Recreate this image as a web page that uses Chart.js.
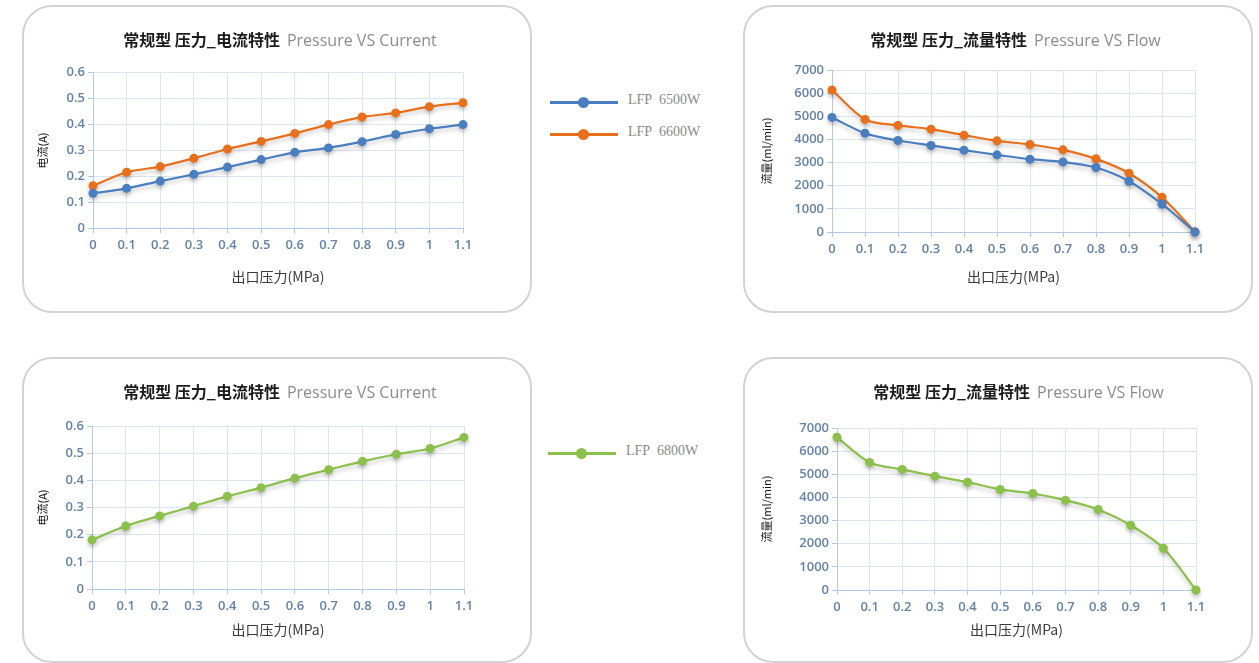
<!DOCTYPE html>
<html>
<head>
<meta charset="utf-8">
<script src="https://cdn.jsdelivr.net/npm/chart.js@4.4.1/dist/chart.umd.min.js"></script>
<style>
  body { margin: 0; width: 1259px; height: 663px; position: relative; overflow: hidden; background: #fff; }
  .box { position: absolute; border: 2px solid #d3d3d3; border-radius: 30px; box-sizing: border-box; }
  canvas { position: absolute; }
  .title { position: absolute; white-space: nowrap; transform: translate(-50%, -50%); line-height: 1; }
  .title .cn { font-family: "Noto Sans CJK SC", sans-serif; font-weight: 700; font-size: 16px; color: #1c1c1c; }
  .title .en { font-family: "Open Sans", sans-serif; font-size: 16px; color: #8c8c8c; margin-left: 7px; }
  .leg { position: absolute; height: 14px; }
  .leg .ln { position: absolute; left: 0; top: 6px; width: 68px; height: 3px; }
  .leg .dt { position: absolute; left: 28px; top: 2px; width: 11px; height: 11px; border-radius: 50%; }
  .leg .tx { position: absolute; left: 78px; top: -3px; font-family: "Liberation Serif", serif; font-size: 14px; color: #8a8a8a; word-spacing: 4px; white-space: nowrap; }
</style>
</head>
<body>
<script>
// x axis: outlet pressure (MPa)
const pressure = ['0', '0.1', '0.2', '0.3', '0.4', '0.5', '0.6', '0.7', '0.8', '0.9', '1', '1.1'];

// current (A)
const current6500 = [0.135, 0.154, 0.182, 0.208, 0.236, 0.265, 0.293, 0.310, 0.334, 0.362, 0.384, 0.400];
const current6600 = [0.164, 0.216, 0.238, 0.270, 0.306, 0.335, 0.366, 0.400, 0.429, 0.445, 0.469, 0.484];
const current6800 = [0.181, 0.232, 0.269, 0.305, 0.341, 0.373, 0.408, 0.439, 0.470, 0.496, 0.517, 0.558];

// flow (ml/min)
const flow6500 = [4950, 4270, 3955, 3740, 3535, 3335, 3145, 3030, 2785, 2195, 1210, 0];
const flow6600 = [6135, 4865, 4605, 4445, 4185, 3940, 3780, 3550, 3160, 2540, 1500, 15];
const flow6800 = [6600, 5510, 5210, 4920, 4660, 4345, 4170, 3880, 3480, 2800, 1805, 0];

const currentTicks = { max: 0.6, step: 0.1 };
const flowTicks = { max: 7000, step: 1000 };

const seriesNames = ['LFP 6500W', 'LFP 6600W', 'LFP 6800W'];
const seriesColors = ['#4a7ebf', '#e8701c', '#8cc04c'];

const titleCn = ['常规型 压力_电流特性', '常规型 压力_流量特性'];
const titleEn = ['Pressure VS Current', 'Pressure VS Flow'];
const xTitle = '出口压力(MPa)';
const yTitles = ['电流(A)', '流量(ml/min)'];

// soft drop shadow under the lines, like the office chart
const shadowPlugin = {
    id: 'lineShadow',
    beforeDatasetsDraw(chart) {
        const ctx = chart.ctx;
        ctx.save();
        ctx.shadowColor = 'rgba(0,0,0,0.22)';
        ctx.shadowBlur = 4;
        ctx.shadowOffsetY = 3;
    },
    afterDatasetsDraw(chart) {
        chart.ctx.restore();
    }
};

function addBox(b) {
    const d = document.createElement('div');
    d.className = 'box';
    d.style.left = b.x + 'px';
    d.style.top = b.y + 'px';
    d.style.width = b.w + 'px';
    d.style.height = b.h + 'px';
    document.body.appendChild(d);
}

function addTitle(cn, en, cx, cy) {
    const t = document.createElement('div');
    t.className = 'title';
    t.style.left = cx + 'px';
    t.style.top = cy + 'px';
    t.innerHTML = '<span class="cn">' + cn + '</span><span class="en">' + en + '</span>';
    document.body.appendChild(t);
}

function addLegend(idx, left, top) {
    const l = document.createElement('div');
    l.className = 'leg';
    l.style.left = left + 'px';
    l.style.top = top + 'px';
    l.innerHTML = '<span class="ln" style="background:' + seriesColors[idx] + '"></span>' +
        '<span class="dt" style="background:' + seriesColors[idx] + '"></span>' +
        '<span class="tx">' + seriesNames[idx] + '</span>';
    document.body.appendChild(l);
}

function makeChart(g, series, ticks, yTitle) {
    addBox(g.box);
    const canvas = document.createElement('canvas');
    canvas.style.left = g.box.x + 'px';
    canvas.style.top = g.box.y + 'px';
    canvas.width = g.box.w;
    canvas.height = g.box.h;
    document.body.appendChild(canvas);

    // place plot area and axis titles where the reference has them
    const yFont = 11, xFont = 14;
    const padLeft = (g.yTitleX - g.box.x) - yFont * 1.2 / 2 - 4;
    const yWidth = (g.plot.l - g.box.x) - padLeft;
    const xBottom = (g.xTitleY - g.box.y) + xFont * 1.2 / 2 + 4;
    const padBottom = g.box.h - xBottom;
    const xHeight = xBottom - (g.plot.b - g.box.y);

    const tickFont = { family: 'Open Sans', size: 13, weight: '600' };
    const tickColor = '#6382a6';

    new Chart(canvas.getContext('2d'), {
        type: 'line',
        data: {
            labels: pressure,
            datasets: series.map(s => ({
                label: seriesNames[s.idx],
                data: s.data,
                borderColor: seriesColors[s.idx],
                backgroundColor: seriesColors[s.idx],
                pointBackgroundColor: seriesColors[s.idx],
                pointBorderWidth: 0,
                pointRadius: 4.5,
                borderWidth: 2.2,
                tension: 0.3,
                clip: false
            }))
        },
        options: {
            responsive: false,
            animation: false,
            layout: {
                padding: {
                    left: padLeft,
                    top: g.plot.t - g.box.y,
                    right: g.box.x + g.box.w - g.plot.r,
                    bottom: padBottom
                }
            },
            plugins: {
                legend: { display: false },
                tooltip: { enabled: false }
            },
            scales: {
                x: {
                    offset: false,
                    grid: { color: '#dae5f2', tickLength: 5, tickColor: '#b4c8e0' },
                    border: { color: '#b4c8e0' },
                    ticks: { color: tickColor, font: tickFont, padding: 4, maxRotation: 0, autoSkip: false },
                    title: { display: true, text: xTitle, color: '#3a3a3a', font: { family: 'Noto Sans CJK SC', size: xFont } },
                    afterFit: sc => { sc.height = xHeight; }
                },
                y: {
                    min: 0,
                    max: ticks.max,
                    grid: { color: '#dae5f2', tickLength: 5, tickColor: '#b4c8e0' },
                    border: { color: '#b4c8e0' },
                    ticks: {
                        stepSize: ticks.step,
                        color: tickColor,
                        font: tickFont,
                        padding: 3,
                        callback: v => String(Math.round(v * 10) / 10)
                    },
                    title: { display: true, text: yTitle, color: '#111', font: { family: 'Noto Sans CJK SC', size: yFont } },
                    afterFit: sc => { sc.width = yWidth; }
                }
            }
        },
        plugins: [shadowPlugin]
    });

    addTitle(g.cn, g.en, (g.plot.l + g.plot.r) / 2 + 2, g.titleY);
}

makeChart({
    box: { x: 22, y: 5, w: 510, h: 308 },
    plot: { l: 93, r: 463, t: 72.7, b: 228.3 },
    yTitleX: 43, xTitleY: 277, titleY: 40,
    cn: titleCn[0], en: titleEn[0]
}, [{ idx: 0, data: current6500 }, { idx: 1, data: current6600 }], currentTicks, yTitles[0]);

makeChart({
    box: { x: 743, y: 5, w: 510, h: 308 },
    plot: { l: 832, r: 1195, t: 70, b: 232 },
    yTitleX: 767, xTitleY: 277, titleY: 40,
    cn: titleCn[1], en: titleEn[1]
}, [{ idx: 0, data: flow6500 }, { idx: 1, data: flow6600 }], flowTicks, yTitles[1]);

makeChart({
    box: { x: 22, y: 357, w: 510, h: 306 },
    plot: { l: 92, r: 464, t: 426, b: 589 },
    yTitleX: 43, xTitleY: 630, titleY: 392,
    cn: titleCn[0], en: titleEn[0]
}, [{ idx: 2, data: current6800 }], currentTicks, yTitles[0]);

makeChart({
    box: { x: 743, y: 357, w: 510, h: 306 },
    plot: { l: 837, r: 1196, t: 428, b: 590 },
    yTitleX: 767, xTitleY: 630, titleY: 392,
    cn: titleCn[1], en: titleEn[1]
}, [{ idx: 2, data: flow6800 }], flowTicks, yTitles[1]);

addLegend(0, 550, 95);
addLegend(1, 550, 127);
addLegend(2, 548, 446);
</script>
</body>
</html>
